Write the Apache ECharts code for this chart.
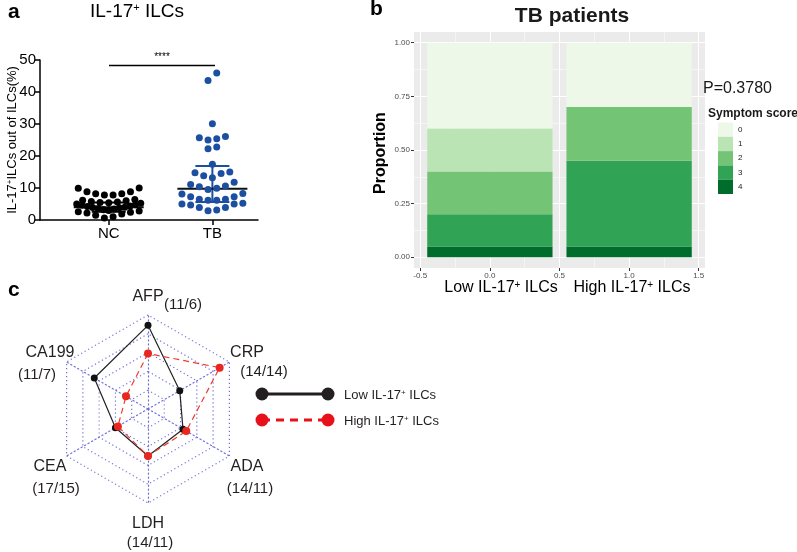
<!DOCTYPE html>
<html>
<head>
<meta charset="utf-8">
<script src="https://cdn.jsdelivr.net/npm/echarts@6/dist/echarts.min.js"></script>
<style>
  html, body { margin: 0; padding: 0; background: #fff; }
  #main { width: 797px; height: 552px; }
</style>
</head>
<body>
<div id="main"></div>
<script>
// ---- panel a : IL-17+ ILCs out of ILCs (%)
const groupNames = ['NC', 'TB'];
const ncValues = [0.6, 1.0, 1.5, 1.9, 2.2, 2.4, 2.6, 2.8,
  3.0, 3.2, 3.4, 3.6, 3.8, 3.9, 4.0, 4.2, 4.4, 4.6, 4.8, 5.0, 5.2,
  5.4, 5.5, 5.6, 5.8, 6.0, 6.2, 6.4,
  7.8, 7.8, 8.2, 8.2, 8.8, 8.8, 9.9, 10.0];
const tbValues = [2.9, 3.1, 3.9, 3.9, 4.7, 5.0, 5.0, 5.2,
  6.2, 6.2, 6.5, 6.5, 7.3, 7.3, 8.1, 8.3,
  9.5, 9.9, 10.4, 10.6, 11.1, 11.8,
  13.2, 13.8, 14.5, 14.8, 15.0,
  17.4, 22.3, 22.8, 25.0, 25.4, 25.7, 26.1, 30.1, 43.6, 45.9];
const medians = [3.95, 9.75];
const errLow = [2.6, 5.6];
const errHigh = [5.5, 16.9];
const groupColors = ['#000000', '#1d4fa0'];

// ---- panel b : symptom score proportions
const scoreNames = ['0', '1', '2', '3', '4'];
const scoreColors = ['#edf8e9', '#bae4b3', '#74c476', '#31a354', '#006d2c'];
const barGroups = ['Low', 'High'];
const lowProp = [0.40, 0.20, 0.20, 0.15, 0.05];
const highProp = [0.30, 0.00, 0.25, 0.40, 0.05];
const posTicks = [-0.5, 0, 0.5, 1, 1.5];
const posMinor = [-0.25, 0.25, 0.75, 1.25];
const propTicks = [0, 0.25, 0.5, 0.75, 1];
const propMinor = [0.125, 0.375, 0.625, 0.875];

// ---- panel c : radar
const markers = ['AFP', 'CA199', 'CEA', 'LDH', 'ADA', 'CRP'];
const markerCounts = ['(11/6)', '(11/7)', '(17/15)', '(14/11)', '(14/11)', '(14/14)'];
const lowRadar = [0.89, 0.66, 0.40, 0.50, 0.43, 0.39];
const highRadar = [0.59, 0.27, 0.37, 0.50, 0.47, 0.88];

const FONT = 'Liberation Sans, Arial, Helvetica, sans-serif';

// panel a scale
const aLeft = 40, aTop = 60, aW = 218, aH = 160;
const aXMin = 0.337, aXMax = 2.44;
const pxPerX = aW / (aXMax - aXMin);

// rows of dots like a column scatter: lowest value in the middle of each row
function swarm(values, center, binH, step, maxW) {
  const sorted = values.slice().sort((a, b) => a - b);
  const rows = [];
  let row = [];
  sorted.forEach(v => {
    if (row.length && v - row[0] >= binH) { rows.push(row); row = []; }
    row.push(v);
  });
  if (row.length) rows.push(row);
  const out = [];
  rows.forEach(r => {
    const n = r.length;
    const s = n > 1 ? Math.min(step, maxW / (n - 1)) : 0;
    r.forEach((v, i) => {
      let k;
      if (n % 2) k = i === 0 ? 0 : (i % 2 ? -(i + 1) / 2 : i / 2);
      else { const j = Math.floor(i / 2) + 0.5; k = i % 2 ? j : -j; }
      out.push([center + k * s / pxPerX, v]);
    });
  });
  return out;
}

// panel b: ggplot style panel, data range expanded by 5%
const bLeft = 414, bTop = 32, bW = 291, bH = 236;
const bXMin = -0.545, bXMax = 1.545, bYMin = -0.05, bYMax = 1.05;
const pxX = bW / (bXMax - bXMin), pxY = bH / (bYMax - bYMin);
// inner grid that spans x -0.5..1.5 and y 0..1 (bars are drawn there)
const innerLeft = bLeft + (-0.5 - bXMin) * pxX;
const innerTop = bTop + (bYMax - 1) * pxY;

let chart = echarts.init(document.getElementById('main'));

let barSeries = [];
for (let k = scoreNames.length - 1; k >= 0; k--) {
  barSeries.push({
    name: scoreNames[k],
    type: 'bar',
    xAxisIndex: 3,
    yAxisIndex: 3,
    stack: 'score',
    barCategoryGap: '10%',
    itemStyle: { color: scoreColors[k] },
    data: [lowProp[k], highProp[k]]
  });
}

function supText(x, y, text, size, supSize, color, align) {
  return {
    type: 'text', x: x, y: y,
    style: {
      text: text, rich: { sup: { fontSize: supSize, verticalAlign: 'top', fontFamily: FONT } },
      fontSize: size, fontFamily: FONT, fill: color, align: align || 'center', verticalAlign: 'middle'
    }
  };
}

let graphics = [
  { type: 'text', x: 8, y: 12, style: { text: 'a', font: 'bold 21px ' + FONT, fill: '#000', verticalAlign: 'middle' } },
  supText(137, 12, 'IL-17{sup|+} ILCs', 19, 11, '#000'),
  Object.assign(supText(12, 140, 'IL-17{sup|+}ILCs out of ILCs(%)', 13, 8, '#000'), { rotation: Math.PI / 2 }),
  { type: 'line', shape: { x1: 109, y1: 65.5, x2: 215, y2: 65.5 }, style: { stroke: '#000', lineWidth: 1.5 } },
  { type: 'text', x: 162, y: 57, style: { text: '****', fontSize: 10, fontFamily: FONT, fill: '#000', align: 'center', verticalAlign: 'middle' } },

  { type: 'text', x: 370, y: 9, style: { text: 'b', font: 'bold 21px ' + FONT, fill: '#000', verticalAlign: 'middle' } },
  { type: 'text', x: 572, y: 16, style: { text: 'TB patients', font: 'bold 21px ' + FONT, fill: '#1a1a1a', align: 'center', verticalAlign: 'middle' } },
  { type: 'text', x: 381, y: 153, rotation: Math.PI / 2, style: { text: 'Proportion', font: 'bold 16px ' + FONT, fill: '#000', align: 'center', verticalAlign: 'middle' } },
  supText(501, 288, 'Low IL-17{sup|+} ILCs', 16, 10, '#000'),
  supText(632, 288, 'High IL-17{sup|+} ILCs', 16, 10, '#000'),
  { type: 'text', x: 703, y: 89, style: { text: 'P=0.3780', fontSize: 16, fontFamily: FONT, fill: '#1a1a1a', verticalAlign: 'middle' } },
  { type: 'text', x: 708, y: 114, style: { text: 'Symptom score', font: 'bold 12px ' + FONT, fill: '#1a1a1a', verticalAlign: 'middle' } },

  { type: 'text', x: 8, y: 290, style: { text: 'c', font: 'bold 21px ' + FONT, fill: '#000', verticalAlign: 'middle' } }
];

// radar labels (order matches markers)
const namePos = [[148, 297], [50, 353], [50, 467], [148, 524], [247, 467], [247, 353]];
const countPos = [[183, 305], [37, 375], [56, 489], [150, 543], [250, 489], [264, 372]];
markers.forEach((m, i) => {
  graphics.push({ type: 'text', x: namePos[i][0], y: namePos[i][1], style: { text: m, fontSize: 16, fontFamily: FONT, fill: '#231f20', align: 'center', verticalAlign: 'middle' } });
  graphics.push({ type: 'text', x: countPos[i][0], y: countPos[i][1], style: { text: markerCounts[i], fontSize: 15, fontFamily: FONT, fill: '#231f20', align: 'center', verticalAlign: 'middle' } });
});

// radar legend
graphics.push(
  { type: 'line', shape: { x1: 262, y1: 394, x2: 328, y2: 394 }, style: { stroke: '#231f20', lineWidth: 3 } },
  { type: 'circle', shape: { cx: 262, cy: 394, r: 6.5 }, style: { fill: '#231f20' } },
  { type: 'circle', shape: { cx: 328, cy: 394, r: 6.5 }, style: { fill: '#231f20' } },
  { type: 'line', shape: { x1: 262, y1: 420, x2: 328, y2: 420 }, style: { stroke: '#e8101a', lineWidth: 3, lineDash: [8, 6] } },
  { type: 'circle', shape: { cx: 262, cy: 420, r: 6.5 }, style: { fill: '#e8101a' } },
  { type: 'circle', shape: { cx: 328, cy: 420, r: 6.5 }, style: { fill: '#e8101a' } },
  supText(344, 395, 'Low IL-17{sup|+} ILCs', 13, 8, '#231f20', 'left'),
  supText(344, 421, 'High IL-17{sup|+} ILCs', 13, 8, '#231f20', 'left')
);

let option = {
  animation: false,
  textStyle: { fontFamily: FONT },
  grid: [
    { left: aLeft, top: aTop, width: aW, height: aH, outerBoundsMode: 'none' },
    { left: bLeft, top: bTop, width: bW, height: bH, show: true, backgroundColor: '#ebebeb', borderWidth: 0, outerBoundsMode: 'none' },
    { left: innerLeft, top: innerTop, width: 2 * pxX, height: pxY, outerBoundsMode: 'none' }
  ],
  xAxis: [
    {
      gridIndex: 0, type: 'value', min: aXMin, max: aXMax,
      axisLine: { show: true, onZero: false, lineStyle: { color: '#000', width: 1.5 } },
      axisTick: { show: true, customValues: [1, 2], length: 5, lineStyle: { color: '#000', width: 1.5 } },
      axisLabel: { customValues: [1, 2], formatter: v => groupNames[Math.round(v) - 1], fontSize: 15, color: '#000', margin: 6 },
      splitLine: { show: false }
    },
    {
      gridIndex: 1, type: 'value', position: 'bottom', min: bXMin, max: bXMax,
      axisLine: { show: false, onZero: false },
      axisTick: { show: true, customValues: posTicks, length: 3, lineStyle: { color: '#333' } },
      axisLabel: { customValues: posTicks, formatter: v => v.toFixed(1), fontSize: 8, color: '#4d4d4d', margin: 4 },
      splitLine: { show: true, lineStyle: { color: '#fff', width: 1.1 } }
    },
    {
      gridIndex: 1, type: 'value', position: 'top', min: bXMin, max: bXMax,
      axisLine: { show: false, onZero: false }, axisLabel: { show: false },
      axisTick: { show: false, customValues: posMinor },
      splitLine: { show: true, lineStyle: { color: '#fff', width: 0.5 } }
    },
    {
      gridIndex: 2, type: 'category', data: barGroups, show: false,
      axisLine: { show: false, onZero: false }, axisTick: { show: false }, axisLabel: { show: false }
    }
  ],
  yAxis: [
    {
      gridIndex: 0, type: 'value', min: 0, max: 50, interval: 10,
      axisLine: { show: true, onZero: false, lineStyle: { color: '#000', width: 1.5 } },
      axisTick: { show: true, length: 5, lineStyle: { color: '#000', width: 1.5 } },
      axisLabel: { fontSize: 15, color: '#000', margin: 4 },
      splitLine: { show: false }
    },
    {
      gridIndex: 1, type: 'value', position: 'left', min: bYMin, max: bYMax,
      axisLine: { show: false, onZero: false },
      axisTick: { show: true, customValues: propTicks, length: 3, lineStyle: { color: '#333' } },
      axisLabel: { customValues: propTicks, formatter: v => v.toFixed(2), fontSize: 8, color: '#4d4d4d', margin: 4 },
      splitLine: { show: true, lineStyle: { color: '#fff', width: 1.1 } }
    },
    {
      gridIndex: 1, type: 'value', position: 'right', min: bYMin, max: bYMax,
      axisLine: { show: false, onZero: false }, axisLabel: { show: false },
      axisTick: { show: false, customValues: propMinor },
      splitLine: { show: true, lineStyle: { color: '#fff', width: 0.5 } }
    },
    {
      gridIndex: 2, type: 'value', min: 0, max: 1, show: false,
      axisLine: { show: false, onZero: false }, axisTick: { show: false }, axisLabel: { show: false }, splitLine: { show: false }
    }
  ],
  legend: {
    data: scoreNames,
    orient: 'vertical', left: 718, top: 122.5,
    itemWidth: 15, itemHeight: 14.3, itemGap: 0, padding: 0,
    icon: 'rect', selectedMode: false,
    textStyle: { fontSize: 8, color: '#1a1a1a' }
  },
  radar: {
    center: [148, 409], radius: 94, startAngle: 90, splitNumber: 5, shape: 'polygon',
    indicator: markers.map(n => ({ name: n, min: 0, max: 1 })),
    axisName: { show: false },
    splitLine: { lineStyle: { color: '#6f6fdc', type: [1.2, 2.8], width: 1.2 } },
    splitArea: { show: false },
    axisLine: { lineStyle: { color: '#6f6fdc', type: [1.2, 2.8], width: 1.2 } }
  },
  graphic: graphics,
  series: [
    {
      name: 'NC', type: 'scatter', xAxisIndex: 0, yAxisIndex: 0,
      symbolSize: 7, itemStyle: { color: groupColors[0], opacity: 1 },
      data: swarm(ncValues, 1, 2.35, 8.7, 64)
    },
    {
      name: 'TB', type: 'scatter', xAxisIndex: 0, yAxisIndex: 0,
      symbolSize: 7, itemStyle: { color: groupColors[1], opacity: 1 },
      data: swarm(tbValues, 2, 2.35, 8.7, 64)
    },
    {
      type: 'custom', xAxisIndex: 0, yAxisIndex: 0,
      data: groupNames.map((g, i) => [i + 1, medians[i], errLow[i], errHigh[i]]),
      renderItem: function (params, api) {
        const x = api.value(0);
        const m = api.coord([x, api.value(1)]);
        const lo = api.coord([x, api.value(2)]);
        const hi = api.coord([x, api.value(3)]);
        const c = groupColors[params.dataIndex];
        return {
          type: 'group',
          children: [
            { type: 'line', shape: { x1: lo[0], y1: lo[1], x2: hi[0], y2: hi[1] }, style: { stroke: c, lineWidth: 2 } },
            { type: 'line', shape: { x1: hi[0] - 17, y1: hi[1], x2: hi[0] + 17, y2: hi[1] }, style: { stroke: c, lineWidth: 2 } },
            { type: 'line', shape: { x1: lo[0] - 17, y1: lo[1], x2: lo[0] + 17, y2: lo[1] }, style: { stroke: c, lineWidth: 2 } },
            { type: 'line', shape: { x1: m[0] - 35, y1: m[1], x2: m[0] + 35, y2: m[1] }, style: { stroke: '#111', lineWidth: 2 } }
          ]
        };
      }
    }
  ].concat(barSeries).concat([
    {
      type: 'radar',
      data: [
        {
          name: 'Low IL-17+ ILCs', value: lowRadar, symbol: 'circle', symbolSize: 7,
          lineStyle: { color: '#222', width: 1.2 }, itemStyle: { color: '#111' }
        },
        {
          name: 'High IL-17+ ILCs', value: highRadar, symbol: 'circle', symbolSize: 8,
          lineStyle: { color: '#ef3b2c', width: 1.2, type: [6, 4] }, itemStyle: { color: '#e8281e' }
        }
      ]
    }
  ])
};

option && chart.setOption(option);
</script>
</body>
</html>
